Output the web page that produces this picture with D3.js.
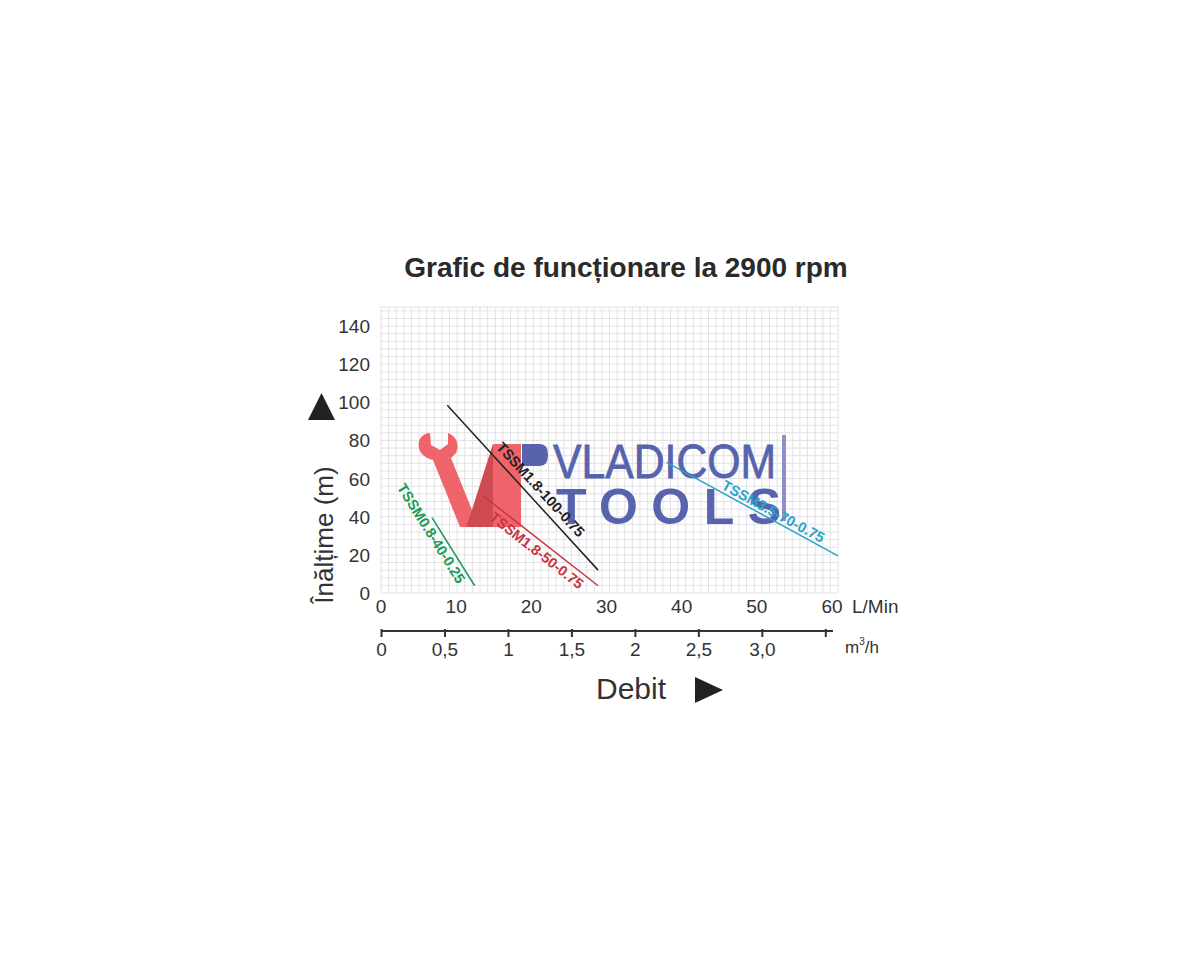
<!DOCTYPE html>
<html><head><meta charset="utf-8">
<script src="https://cdn.jsdelivr.net/npm/d3@7/dist/d3.min.js"></script>
<style>body{margin:0;background:#fff}svg{display:block}text{font-family:"Liberation Sans",Arial,sans-serif}</style>
</head><body><svg id="c" width="1200" height="960"></svg>
<script>
// ---- data ----
const title = "Grafic de funcționare la 2900 rpm";
const yTicks = [0, 20, 40, 60, 80, 100, 120, 140];
const xTicksLmin = [0, 10, 20, 30, 40, 50, 60];
const xTicksM3h = [0, 0.5, 1, 1.5, 2, 2.5, 3, 3.5];
const xTickLabelsM3h = ["0", "0,5", "1", "1,5", "2", "2,5", "3,0", ""];
const seriesNames = ["TSSM1.8-100-0.75", "TSSM1.8-50-0.75", "TSSM0.8-40-0.25", "TSSM3.5-70-0.75"];
const seriesFlow = [[8.7, 28.5], [13.4, 28.5], [6.7, 12.3], [37.5, 60]];   // L/min
const seriesHead = [[98.5, 12], [51, 3.8], [39.5, 3.8], [68.5, 19.5]];      // m
const seriesColors = ["#222222", "#c8353f", "#1c9a55", "#2aa3c9"];
const labelPos = [0.56, 0.52, 0.16, 0.6];      // fraction along line
const labelOffset = [-7, 15, 14, -3];          // perpendicular baseline offset px

const svg = d3.select("#c");
const x = d3.scaleLinear().domain([0, 60]).range([381, 838]);
const y = d3.scaleLinear().domain([0, 150]).range([593, 307]);
const xm = d3.scaleLinear().domain([0, 60 * 0.06]).range([381, 838]);

// grid
const g = svg.append("g");
g.selectAll("line.v").data(d3.range(0, 61, 1)).join("line")
  .attr("x1", d => x(d)).attr("x2", d => x(d)).attr("y1", y(150)).attr("y2", y(0))
  .attr("stroke", "#e2e2e5").attr("stroke-width", 1);
g.selectAll("line.h").data(d3.range(0, 151, 4).concat([150])).join("line")
  .attr("y1", d => y(d)).attr("y2", d => y(d)).attr("x1", x(0)).attr("x2", x(60))
  .attr("stroke", "#e2e2e5").attr("stroke-width", 1);

// watermark
const wm = svg.append("g");
wm.append("path").attr("fill", "#ee4f57").attr("opacity", 0.88)
  .attr("d", "M419,448 C417,438 424,433 430,433 L431,445 L440,450 L448,444 L448,433 C456,436 460,444 456,453 L451,458 L472,510 L493,444 L521,444 L521,527 L460,527 L433,460 C426,458 420,454 419,448 Z");
wm.append("path").attr("fill", "#b83a45").attr("opacity", 0.6)
  .attr("d", "M472,510 L493,444 L493,527 L466,527 Z");
wm.append("path").attr("fill", "#5763ad").attr("d", "M522,444 L540,444 Q548,444 548,455 Q548,466 540,466 L522,466 Z");
wm.append("text").attr("x", 553).attr("y", 478).attr("font-size", 48).attr("fill", "#5763ad")
  .attr("stroke", "#5763ad").attr("stroke-width", 0.8)
  .attr("textLength", 223).attr("lengthAdjust", "spacingAndGlyphs").text("VLADICOM");
wm.append("text").attr("x", 556).attr("y", 524).attr("font-size", 50).attr("font-weight", "bold").attr("fill", "#5763ad")
  .attr("textLength", 225).attr("lengthAdjust", "spacing").text("TOOLS");
wm.append("rect").attr("x", 782).attr("y", 435).attr("width", 4).attr("height", 86).attr("fill", "#8d92c6");

// series
seriesNames.forEach((name, i) => {
  const pts = seriesFlow[i].map((f, j) => [x(f), y(seriesHead[i][j])]);
  svg.append("path").attr("d", d3.line()(pts)).attr("fill", "none")
    .attr("stroke", seriesColors[i]).attr("stroke-width", 1.5);
  const [p0, p1] = pts;
  const ang = Math.atan2(p1[1] - p0[1], p1[0] - p0[0]);
  const t = labelPos[i];
  const cx = p0[0] + (p1[0] - p0[0]) * t, cy = p0[1] + (p1[1] - p0[1]) * t;
  const off = labelOffset[i];
  const lx = cx - Math.sin(ang) * off, ly = cy + Math.cos(ang) * off;
  svg.append("text").attr("transform", `translate(${lx},${ly}) rotate(${ang * 180 / Math.PI})`)
    .attr("text-anchor", "middle").attr("font-size", 14.5).attr("font-weight", "bold")
    .attr("fill", seriesColors[i]).text(name);
});

// y tick labels
svg.selectAll("text.yt").data(yTicks).join("text")
  .attr("x", 370).attr("y", d => y(d) + 7).attr("text-anchor", "end")
  .attr("font-size", 19).attr("fill", "#333").text(d => d);

// x L/min tick labels
svg.selectAll("text.xt").data(xTicksLmin).join("text")
  .attr("x", d => x(d) - (d / 60) * 6).attr("y", 613).attr("text-anchor", "middle")
  .attr("font-size", 19).attr("fill", "#333").text(d => d);
svg.append("text").attr("x", 852).attr("y", 613).attr("font-size", 19).attr("fill", "#333").text("L/Min");

// m3/h axis
const ax = svg.append("g").attr("transform", "translate(0,631)")
  .call(d3.axisBottom(xm).tickValues(xTicksM3h).tickFormat((d, i) => xTickLabelsM3h[i]).tickSize(7).tickSizeOuter(0));
ax.select(".domain").attr("stroke", "#333").attr("stroke-width", 2).attr("d", "M381,0H833");
ax.selectAll(".tick line").attr("stroke", "#333").attr("stroke-width", 2).attr("y1", -2).attr("y2", 6);
ax.selectAll(".tick text").attr("font-size", 19).attr("fill", "#333").attr("y", 12)
  .attr("font-family", "Liberation Sans, Arial, sans-serif");
const m3 = svg.append("text").attr("x", 845).attr("y", 653).attr("font-size", 17).attr("fill", "#333");
m3.append("tspan").text("m");
m3.append("tspan").attr("font-size", 10).attr("dy", -8).text("3");
m3.append("tspan").attr("dy", 8).text("/h");

// axis titles
svg.append("text").attr("transform", "translate(333,535) rotate(-90)").attr("text-anchor", "middle")
  .attr("font-size", 26).attr("fill", "#333").text("Înălțime (m)");
svg.append("path").attr("fill", "#222").attr("d", "M308,420 L321.5,393 L335,420 Z");
svg.append("text").attr("x", 596).attr("y", 699).attr("font-size", 30).attr("fill", "#333").text("Debit");
svg.append("path").attr("fill", "#222").attr("d", "M695,677 L723,690 L695,703 Z");

// title
svg.append("text").attr("x", 626).attr("y", 277).attr("text-anchor", "middle")
  .attr("font-size", 28).attr("font-weight", "bold").attr("fill", "#2a2a2a").text(title);
</script></body></html>
